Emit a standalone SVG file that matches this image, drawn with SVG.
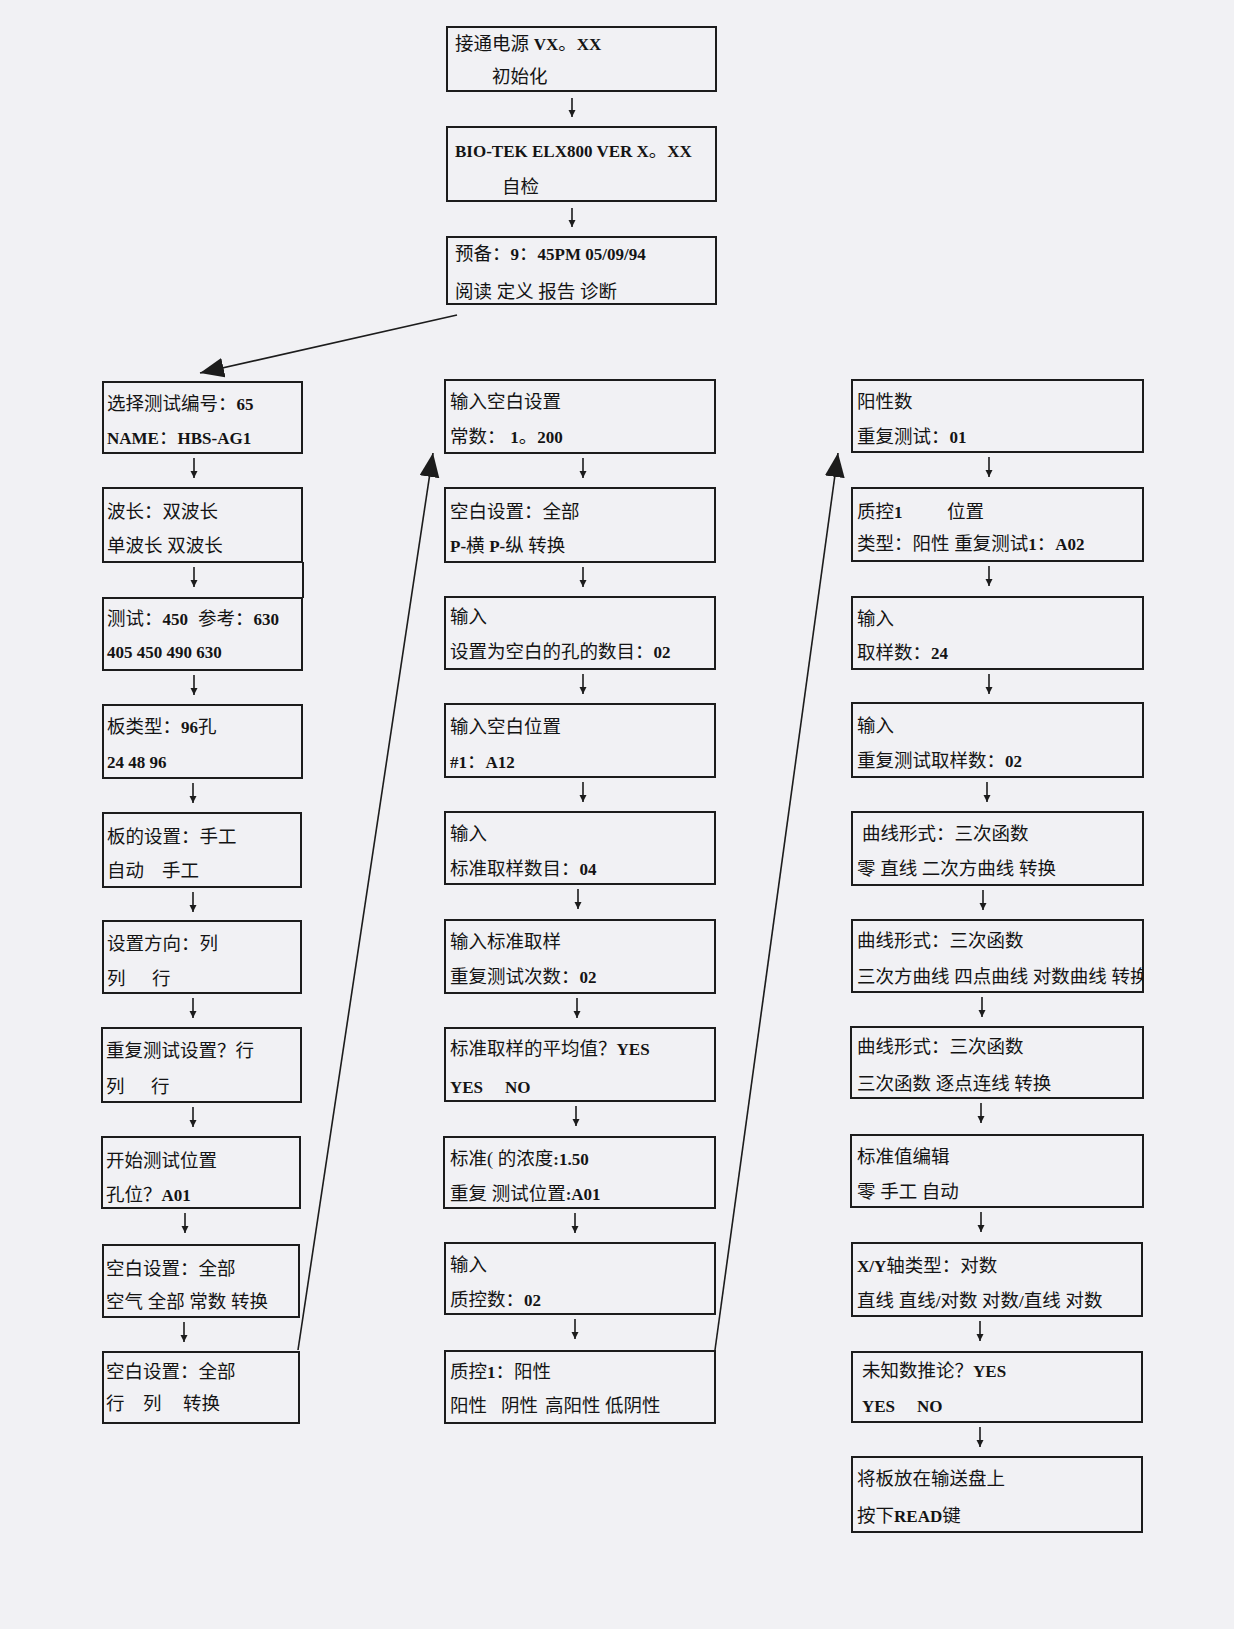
<svg xmlns="http://www.w3.org/2000/svg" width="1234" height="1629" viewBox="0 0 1234 1629">
<style>
.bg{fill:#f1f1f4}
.bx{fill:none;stroke:#1c1c1c;stroke-width:2}
.t{font-family:"Liberation Serif","Noto Sans CJK SC",serif;font-size:18.5px;fill:#141414}
.b{font-family:"Liberation Serif",serif;font-weight:bold;font-size:17px}
.ar{stroke:#1c1c1c;stroke-width:1.6;fill:none}
.dg{stroke:#1c1c1c;stroke-width:1.6;fill:none}
</style>
<defs>
<marker id="sm" markerUnits="userSpaceOnUse" markerWidth="8" markerHeight="8" refX="7" refY="3.5" orient="auto"><path d="M0,0 L7,3.5 L0,7 z" fill="#1c1c1c"/></marker>
<marker id="big" markerUnits="userSpaceOnUse" markerWidth="26" markerHeight="22" refX="24" refY="10" orient="auto"><path d="M0,0 L24,10 L0,20 z" fill="#1c1c1c"/></marker>
<clipPath id="cR6"><rect x="852" y="920" width="291" height="72"/></clipPath>
</defs>
<rect class="bg" x="0" y="0" width="1234" height="1629"/>

<g id="connectors">
<line class="ar" x1="572" y1="98" x2="572" y2="117" marker-end="url(#sm)"/>
<line class="ar" x1="572" y1="208" x2="572" y2="227" marker-end="url(#sm)"/>
<line class="dg" x1="457" y1="315" x2="200" y2="373" marker-end="url(#big)"/>
<line class="ar" x1="194" y1="458" x2="194" y2="478" marker-end="url(#sm)"/>
<line class="ar" x1="194" y1="567" x2="194" y2="587" marker-end="url(#sm)"/>
<line class="ar" x1="194" y1="675" x2="194" y2="695" marker-end="url(#sm)"/>
<line class="ar" x1="193" y1="783" x2="193" y2="803" marker-end="url(#sm)"/>
<line class="ar" x1="193" y1="892" x2="193" y2="912" marker-end="url(#sm)"/>
<line class="ar" x1="193" y1="998" x2="193" y2="1018" marker-end="url(#sm)"/>
<line class="ar" x1="193" y1="1107" x2="193" y2="1127" marker-end="url(#sm)"/>
<line class="ar" x1="185" y1="1213" x2="185" y2="1233" marker-end="url(#sm)"/>
<line class="ar" x1="184" y1="1322" x2="184" y2="1342" marker-end="url(#sm)"/>
<line class="dg" x1="298" y1="1350" x2="433" y2="453" marker-end="url(#big)"/>
<line class="ar" x1="583" y1="458" x2="583" y2="478" marker-end="url(#sm)"/>
<line class="ar" x1="583" y1="567" x2="583" y2="587" marker-end="url(#sm)"/>
<line class="ar" x1="583" y1="674" x2="583" y2="694" marker-end="url(#sm)"/>
<line class="ar" x1="583" y1="782" x2="583" y2="802" marker-end="url(#sm)"/>
<line class="ar" x1="578" y1="889" x2="578" y2="909" marker-end="url(#sm)"/>
<line class="ar" x1="577" y1="998" x2="577" y2="1018" marker-end="url(#sm)"/>
<line class="ar" x1="576" y1="1106" x2="576" y2="1126" marker-end="url(#sm)"/>
<line class="ar" x1="575" y1="1213" x2="575" y2="1233" marker-end="url(#sm)"/>
<line class="ar" x1="575" y1="1319" x2="575" y2="1339" marker-end="url(#sm)"/>
<line class="dg" x1="715" y1="1350" x2="838" y2="453" marker-end="url(#big)"/>
<line class="ar" x1="989" y1="457" x2="989" y2="477" marker-end="url(#sm)"/>
<line class="ar" x1="989" y1="566" x2="989" y2="586" marker-end="url(#sm)"/>
<line class="ar" x1="989" y1="674" x2="989" y2="694" marker-end="url(#sm)"/>
<line class="ar" x1="987" y1="782" x2="987" y2="802" marker-end="url(#sm)"/>
<line class="ar" x1="983" y1="890" x2="983" y2="910" marker-end="url(#sm)"/>
<line class="ar" x1="982" y1="997" x2="982" y2="1017" marker-end="url(#sm)"/>
<line class="ar" x1="981" y1="1103" x2="981" y2="1123" marker-end="url(#sm)"/>
<line class="ar" x1="981" y1="1212" x2="981" y2="1232" marker-end="url(#sm)"/>
<line class="ar" x1="980" y1="1321" x2="980" y2="1341" marker-end="url(#sm)"/>
<line class="ar" x1="980" y1="1427" x2="980" y2="1447" marker-end="url(#sm)"/>
</g>

<g id="T1"><rect class="bx" x="447" y="27" width="269" height="64"/>
<text class="t" x="455" y="50">接通电源 <tspan class="b">VX</tspan>。<tspan class="b">XX</tspan></text>
<text class="t" x="492" y="83">初始化</text></g>
<g id="T2"><rect class="bx" x="447" y="127" width="269" height="74"/>
<text class="t" x="455" y="157"><tspan class="b">BIO-TEK ELX800 VER X</tspan>。<tspan class="b">XX</tspan></text>
<text class="t" x="502" y="193">自检</text></g>
<g id="T3"><rect class="bx" x="447" y="237" width="269" height="67"/>
<text class="t" x="455" y="260">预备：<tspan class="b">9</tspan>：<tspan class="b">45PM 05/09/94</tspan></text>
<text class="t" x="455" y="298">阅读 定义 报告 诊断</text></g>

<g id="L1"><rect class="bx" x="103" y="382" width="199" height="71"/>
<text class="t" x="107" y="410">选择测试编号：<tspan class="b">65</tspan></text>
<text class="t" x="107" y="444"><tspan class="b">NAME</tspan>：<tspan class="b">HBS-AG1</tspan></text></g>
<g id="L2"><rect class="bx" x="103" y="488" width="199" height="74"/>
<line class="bx" x1="303" y1="562" x2="303" y2="598" stroke-width="1.2"/>
<text class="t" x="107" y="518">波长：双波长</text>
<text class="t" x="107" y="552">单波长 双波长</text></g>
<g id="L3"><rect class="bx" x="103" y="598" width="199" height="72"/>
<text class="t" x="107" y="625">测试：<tspan class="b">450</tspan></text><text class="t" x="198" y="625">参考：<tspan class="b">630</tspan></text>
<text class="t" x="107" y="658"><tspan class="b">405 450 490 630</tspan></text></g>
<g id="L4"><rect class="bx" x="103" y="705" width="199" height="73"/>
<text class="t" x="107" y="733">板类型：<tspan class="b">96</tspan>孔</text>
<text class="t" x="107" y="768"><tspan class="b">24 48 96</tspan></text></g>
<g id="L5"><rect class="bx" x="103" y="813" width="198" height="74"/>
<text class="t" x="107" y="843">板的设置：手工</text>
<text class="t" x="107" y="877">自动</text><text class="t" x="162" y="877">手工</text></g>
<g id="L6"><rect class="bx" x="103" y="921" width="198" height="72"/>
<text class="t" x="107" y="950">设置方向：列</text>
<text class="t" x="107" y="985">列</text><text class="t" x="152" y="985">行</text></g>
<g id="L7"><rect class="bx" x="102" y="1028" width="199" height="74"/>
<text class="t" x="106" y="1057">重复测试设置？行</text>
<text class="t" x="106" y="1093">列</text><text class="t" x="151" y="1093">行</text></g>
<g id="L8"><rect class="bx" x="102" y="1137" width="198" height="71"/>
<text class="t" x="106" y="1167">开始测试位置</text>
<text class="t" x="106" y="1201">孔位？<tspan class="b">A01</tspan></text></g>
<g id="L9"><rect class="bx" x="103" y="1245" width="196" height="72"/>
<text class="t" x="106" y="1275">空白设置：全部</text>
<text class="t" x="106" y="1308">空气 全部 常数 转换</text></g>
<g id="L10"><rect class="bx" x="103" y="1352" width="196" height="71"/>
<text class="t" x="106" y="1378">空白设置：全部</text>
<text class="t" x="106" y="1410">行</text><text class="t" x="143" y="1410">列</text><text class="t" x="183" y="1410">转换</text></g>

<g id="M1"><rect class="bx" x="445" y="380" width="270" height="73"/>
<text class="t" x="450" y="408">输入空白设置</text>
<text class="t" x="450" y="443">常数： <tspan class="b">1</tspan>。<tspan class="b">200</tspan></text></g>
<g id="M2"><rect class="bx" x="445" y="488" width="270" height="74"/>
<text class="t" x="450" y="518">空白设置：全部</text>
<text class="t" x="450" y="552"><tspan class="b">P-</tspan>横 <tspan class="b">P-</tspan>纵  转换</text></g>
<g id="M3"><rect class="bx" x="445" y="597" width="270" height="72"/>
<text class="t" x="450" y="623">输入</text>
<text class="t" x="450" y="658">设置为空白的孔的数目：<tspan class="b">02</tspan></text></g>
<g id="M4"><rect class="bx" x="445" y="704" width="270" height="73"/>
<text class="t" x="450" y="733">输入空白位置</text>
<text class="t" x="450" y="768"><tspan class="b">#1</tspan>：<tspan class="b">A12</tspan></text></g>
<g id="M5"><rect class="bx" x="445" y="812" width="270" height="72"/>
<text class="t" x="450" y="840">输入</text>
<text class="t" x="450" y="875">标准取样数目：<tspan class="b">04</tspan></text></g>
<g id="M6"><rect class="bx" x="445" y="920" width="270" height="73"/>
<text class="t" x="450" y="948">输入标准取样</text>
<text class="t" x="450" y="983">重复测试次数：<tspan class="b">02</tspan></text></g>
<g id="M7"><rect class="bx" x="445" y="1028" width="270" height="73"/>
<text class="t" x="450" y="1055">标准取样的平均值？<tspan class="b">YES</tspan></text>
<text class="t" x="450" y="1093"><tspan class="b">YES</tspan></text><text class="t" x="505" y="1093"><tspan class="b">NO</tspan></text></g>
<g id="M8"><rect class="bx" x="444" y="1137" width="271" height="71"/>
<text class="t" x="450" y="1165">标准( 的浓度<tspan class="b">:1.50</tspan></text>
<text class="t" x="450" y="1200">重复 测试位置<tspan class="b">:A01</tspan></text></g>
<g id="M9"><rect class="bx" x="445" y="1243" width="270" height="71"/>
<text class="t" x="450" y="1271">输入</text>
<text class="t" x="450" y="1306">质控数：<tspan class="b">02</tspan></text></g>
<g id="M10"><rect class="bx" x="445" y="1351" width="270" height="72"/>
<text class="t" x="450" y="1378">质控<tspan class="b">1</tspan>：阳性</text>
<text class="t" x="450" y="1412">阳性</text><text class="t" x="501" y="1412">阴性</text><text class="t" x="545" y="1412">高阳性</text><text class="t" x="605" y="1412">低阴性</text></g>

<g id="R1"><rect class="bx" x="852" y="380" width="291" height="72"/>
<text class="t" x="857" y="408">阳性数</text>
<text class="t" x="857" y="443">重复测试：<tspan class="b">01</tspan></text></g>
<g id="R2"><rect class="bx" x="852" y="488" width="291" height="73"/>
<text class="t" x="857" y="518">质控<tspan class="b">1</tspan></text><text class="t" x="947" y="518">位置</text>
<text class="t" x="857" y="550">类型：阳性  重复测试<tspan class="b">1</tspan>：<tspan class="b">A02</tspan></text></g>
<g id="R3"><rect class="bx" x="852" y="597" width="291" height="72"/>
<text class="t" x="857" y="625">输入</text>
<text class="t" x="857" y="659">取样数：<tspan class="b">24</tspan></text></g>
<g id="R4"><rect class="bx" x="852" y="703" width="291" height="74"/>
<text class="t" x="857" y="732">输入</text>
<text class="t" x="857" y="767">重复测试取样数：<tspan class="b">02</tspan></text></g>
<g id="R5"><rect class="bx" x="852" y="812" width="291" height="73"/>
<text class="t" x="862" y="840">曲线形式：三次函数</text>
<text class="t" x="857" y="875">零 直线 二次方曲线 转换</text></g>
<g id="R6"><rect class="bx" x="852" y="920" width="291" height="72"/>
<text class="t" x="857" y="947">曲线形式：三次函数</text>
<text class="t" x="857" y="983" clip-path="url(#cR6)">三次方曲线 四点曲线 对数曲线 转换</text></g>
<g id="R7"><rect class="bx" x="851" y="1027" width="292" height="71"/>
<text class="t" x="857" y="1053">曲线形式：三次函数</text>
<text class="t" x="857" y="1090">三次函数 逐点连线 转换</text></g>
<g id="R8"><rect class="bx" x="851" y="1135" width="292" height="72"/>
<text class="t" x="857" y="1163">标准值编辑</text>
<text class="t" x="857" y="1198">零 手工 自动</text></g>
<g id="R9"><rect class="bx" x="852" y="1243" width="290" height="73"/>
<text class="t" x="857" y="1272"><tspan class="b">X/Y</tspan>轴类型：对数</text>
<text class="t" x="857" y="1307">直线 直线<tspan class="b">/</tspan>对数 对数<tspan class="b">/</tspan>直线 对数</text></g>
<g id="R10"><rect class="bx" x="852" y="1352" width="290" height="70"/>
<text class="t" x="862" y="1377">未知数推论？<tspan class="b">YES</tspan></text>
<text class="t" x="862" y="1412"><tspan class="b">YES</tspan></text><text class="t" x="917" y="1412"><tspan class="b">NO</tspan></text></g>
<g id="R11"><rect class="bx" x="852" y="1457" width="290" height="75"/>
<text class="t" x="857" y="1485">将板放在输送盘上</text>
<text class="t" x="857" y="1522">按下<tspan class="b">READ</tspan>键</text></g>
</svg>
